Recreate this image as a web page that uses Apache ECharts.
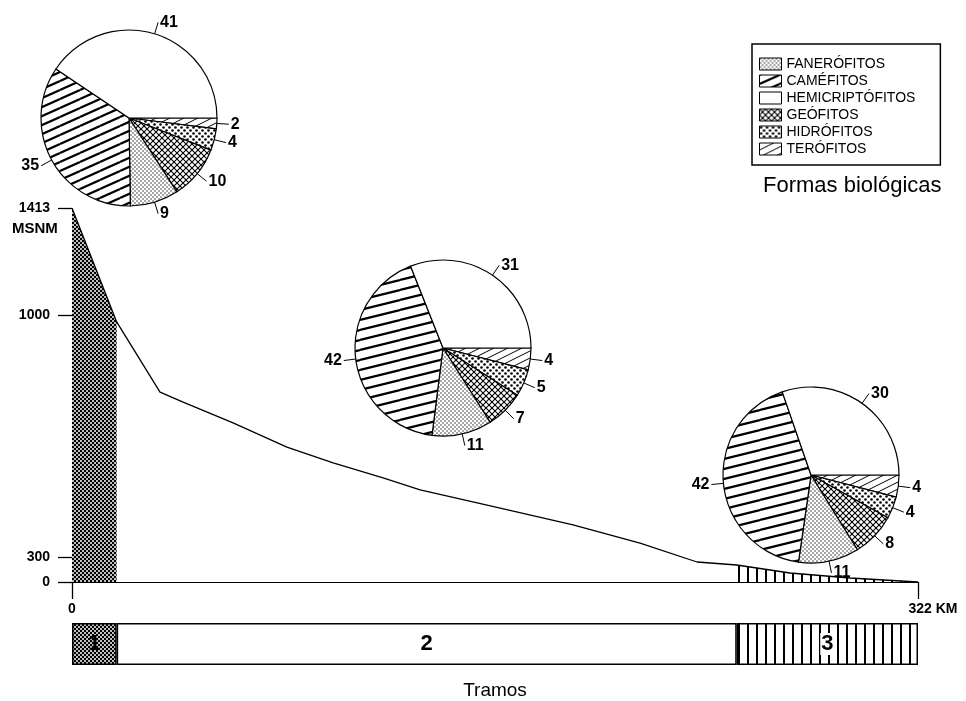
<!DOCTYPE html>
<html><head><meta charset="utf-8">
<script src="https://cdn.jsdelivr.net/npm/echarts@6/dist/echarts.min.js"></script>
<style>html,body{margin:0;padding:0;background:#fff}#c{width:966px;height:701px}</style>
</head><body><div id="c"></div>
<script>
// ---------------- DATA ----------------
// life forms in drawing order (clockwise from 3 o'clock)
const lifeForms = ['Terófitos', 'Hidrófitos', 'Geófitos', 'Fanerófitos', 'Caméfitos', 'Hemicriptófitos'];
const legendOrder = ['Fanerófitos', 'Caméfitos', 'Hemicriptófitos', 'Geófitos', 'Hidrófitos', 'Terófitos'];
const tramo1Forms = [2, 4, 10, 9, 35, 41];
const tramo2Forms = [4, 5, 7, 11, 42, 31];
const tramo3Forms = [4, 4, 8, 11, 42, 30];

// river elevation profile (km from source, metres above sea level)
const profileKm   = [0, 17, 33.5, 42.3, 61.3, 81.8, 99.4, 118.4, 132.5, 158, 190.7, 216.2, 237.9, 253, 273.3, 296.2, 322];
const profileElev = [1413, 980, 777, 748, 688, 618, 572, 529, 494, 450, 393, 340, 240, 204, 108, 48, 0];

const tramoNames = ['1', '2', '3'];
const tramoBoundsKm = [0, 17, 253, 322];
const elevTicks = [0, 300, 1000, 1413];
const kmTicks = [0, 322];

// ---------------- SCHEMATIC VERTICAL SCALE (as drawn in the original) ----------------
const SCALE_ELEV = [0, 300, 1000, 1413];
const SCALE_POS  = [0, 25, 267, 374];
function interp(v, xs, ys) {
  for (let i = 0; i < xs.length - 1; i++) {
    if (v <= xs[i + 1] || i === xs.length - 2) {
      return ys[i] + (v - xs[i]) * (ys[i + 1] - ys[i]) / (xs[i + 1] - xs[i]);
    }
  }
}
const toPos = e => interp(e, SCALE_ELEV, SCALE_POS);
const fromPos = p => Math.round(interp(p, SCALE_POS, SCALE_ELEV));

// ---------------- PATTERNS ----------------
function pattern(w, h, draw, bg) {
  const c = document.createElement('canvas');
  c.width = w; c.height = h;
  const g = c.getContext('2d');
  g.fillStyle = bg || '#fff'; g.fillRect(0, 0, w, h);
  draw(g, w, h);
  return { image: c, repeat: 'repeat' };
}
function slant(run, h, lw) {
  return pattern(run, h, (g, w, hh) => {
    g.strokeStyle = '#000'; g.lineWidth = lw;
    for (let k = -1; k <= 1; k++) { g.beginPath(); g.moveTo(0, hh + k * hh); g.lineTo(w, k * hh); g.stroke(); }
  });
}
const fineDots = pattern(4, 4, g => {
  g.fillStyle = '#222';
  g.beginPath(); g.arc(1, 1, 0.75, 0, 7); g.fill();
  g.beginPath(); g.arc(3, 3, 0.75, 0, 7); g.fill();
});
const crossHatch = pattern(6, 6, (g, w) => {
  g.strokeStyle = '#000'; g.lineWidth = 1.1;
  for (let k = -1; k <= 1; k++) {
    g.beginPath(); g.moveTo(0, k * w); g.lineTo(w, w + k * w); g.stroke();
    g.beginPath(); g.moveTo(0, w + k * w); g.lineTo(w, k * w); g.stroke();
  }
});
const bigDots = pattern(6, 6, g => {
  g.fillStyle = '#000';
  g.beginPath(); g.arc(1.5, 1.5, 1.3, 0, 7); g.fill();
  g.beginPath(); g.arc(4.5, 4.5, 1.3, 0, 7); g.fill();
});
const camSteep = slant(20, 9, 2.2);
const camFlat = slant(40, 10, 2.2);
const teroLines = slant(14, 7, 1);
const darkStipple = pattern(4, 4, g => {
  g.fillStyle = '#fff';
  g.beginPath(); g.arc(1, 1, 1.0, 0, 7); g.fill();
  g.beginPath(); g.arc(3, 3, 1.0, 0, 7); g.fill();
}, '#000');
const vertLines = pattern(9, 2, g => { g.fillStyle = '#000'; g.fillRect(0, 0, 2, 2); });

function fillsFor(camFill) {
  return {
    'Terófitos': teroLines, 'Hidrófitos': bigDots, 'Geófitos': crossHatch,
    'Fanerófitos': fineDots, 'Caméfitos': camFill, 'Hemicriptófitos': '#fff'
  };
}
const FONT = 'Liberation Sans';

function pieSeries(values, center, camFill) {
  const f = fillsFor(camFill);
  return {
    type: 'pie', center: center, radius: 88, startAngle: 0, clockwise: true,
    avoidLabelOverlap: false, silent: true, z: 5,
    data: lifeForms.map((n, i) => ({ name: n, value: values[i], itemStyle: { color: f[n] } })),
    itemStyle: { borderColor: '#000', borderWidth: 1.2 },
    label: { show: true, position: 'outside', formatter: '{c}', color: '#000', fontWeight: 'bold', fontSize: 16, fontFamily: FONT, distanceToLabelLine: 2 },
    labelLine: { show: true, length: 12, length2: 0, lineStyle: { color: '#000', width: 1 } },
    emphasis: { disabled: true }
  };
}

const profileData = profileKm.map((k, i) => [k, toPos(profileElev[i])]);
const tramoFills = [darkStipple, '#fff', vertLines];

const chart = echarts.init(document.getElementById('c'), null, { renderer: 'canvas' });
chart.setOption({
  animation: false,
  backgroundColor: '#fff',
  title: {
    text: 'Formas biológicas', left: 763, top: 175, padding: 0,
    textStyle: { fontSize: 22, fontWeight: 'normal', fontFamily: FONT, color: '#000' }
  },
  legend: {
    orient: 'vertical', left: 752, top: 44, data: legendOrder,
    formatter: n => n.toUpperCase(), icon: 'rect',
    itemWidth: 22, itemHeight: 12, itemGap: 3,
    padding: [13, 25, 9, 7], borderColor: '#000', borderWidth: 1.5,
    textStyle: { fontSize: 14, color: '#000', fontFamily: FONT },
    itemStyle: { borderColor: '#000', borderWidth: 1 },
    selectedMode: false
  },
  graphic: [{
    type: 'text', left: 12, top: 221,
    style: { text: 'MSNM', font: 'bold 15px "Liberation Sans"', fill: '#000' }
  }],
  grid: [
    { left: 72, right: 48, top: 208, height: 374 },
    { left: 72, right: 48, top: 623, height: 42 }
  ],
  xAxis: [{
    type: 'value', gridIndex: 0, min: 0, max: 322,
    axisLine: { show: true, lineStyle: { color: '#000', width: 1 } },
    axisTick: { show: true, customValues: kmTicks, length: 17, lineStyle: { color: '#000', width: 1.3 } },
    axisLabel: {
      customValues: kmTicks, margin: 20,
      formatter: v => v === 322 ? '{a|' + v + ' KM}' : '{b|' + v + '}',
      rich: {
        a: { padding: [0, 0, 0, 30], fontWeight: 'bold', fontSize: 14, fontFamily: FONT, color: '#000' },
        b: { fontWeight: 'bold', fontSize: 14, fontFamily: FONT, color: '#000' }
      }
    },
    splitLine: { show: false }
  }, {
    type: 'value', gridIndex: 1, min: 0, max: 322,
    name: 'Tramos', nameLocation: 'middle', nameGap: 16,
    nameTextStyle: { fontSize: 19, fontFamily: FONT, color: '#000', verticalAlign: 'top' },
    axisLine: { show: false }, axisTick: { show: false }, axisLabel: { show: false }, splitLine: { show: false }
  }],
  yAxis: [{
    type: 'value', gridIndex: 0, min: 0, max: 374, offset: 5,
    axisLine: { show: false },
    axisTick: { show: true, customValues: elevTicks.map(toPos), length: 14, lineStyle: { color: '#000', width: 1.3 } },
    axisLabel: {
      customValues: elevTicks.map(toPos), margin: 17,
      formatter: v => String(fromPos(v)),
      fontWeight: 'bold', fontSize: 14, fontFamily: FONT, color: '#000'
    },
    splitLine: { show: false }
  }, {
    type: 'category', gridIndex: 1, data: ['Tramos'], show: false
  }],
  series: [
    {
      type: 'line', xAxisIndex: 0, yAxisIndex: 0, z: 1, silent: true,
      data: profileData.filter(d => d[0] <= tramoBoundsKm[1]),
      symbol: 'none', lineStyle: { width: 0 },
      areaStyle: { color: tramoFills[0], opacity: 1 }
    },
    {
      type: 'line', xAxisIndex: 0, yAxisIndex: 0, z: 1, silent: true,
      data: profileData.filter(d => d[0] >= tramoBoundsKm[2]),
      symbol: 'none', lineStyle: { width: 0 },
      areaStyle: { color: tramoFills[2], opacity: 1 }
    },
    {
      type: 'line', xAxisIndex: 0, yAxisIndex: 0, z: 2, silent: true,
      data: profileData, symbol: 'none',
      lineStyle: { color: '#000', width: 1.3 }
    },
    ...tramoNames.map((t, i) => ({
      type: 'bar', xAxisIndex: 1, yAxisIndex: 1, stack: 'tramos', silent: true,
      barWidth: '100%',
      data: [tramoBoundsKm[i + 1] - tramoBoundsKm[i]],
      itemStyle: { color: tramoFills[i], borderColor: '#000', borderWidth: 1.5 },
      label: {
        show: true, position: 'inside', formatter: t, color: '#000',
        fontWeight: 'bold', fontSize: 22, fontFamily: FONT,
        backgroundColor: i === 2 ? '#fff' : 'transparent', padding: [0, 1]
      }
    })),
    pieSeries(tramo1Forms, [129, 118], camSteep),
    pieSeries(tramo2Forms, [443, 348], camFlat),
    pieSeries(tramo3Forms, [811, 475], camFlat)
  ]
});
</script>
</body></html>
